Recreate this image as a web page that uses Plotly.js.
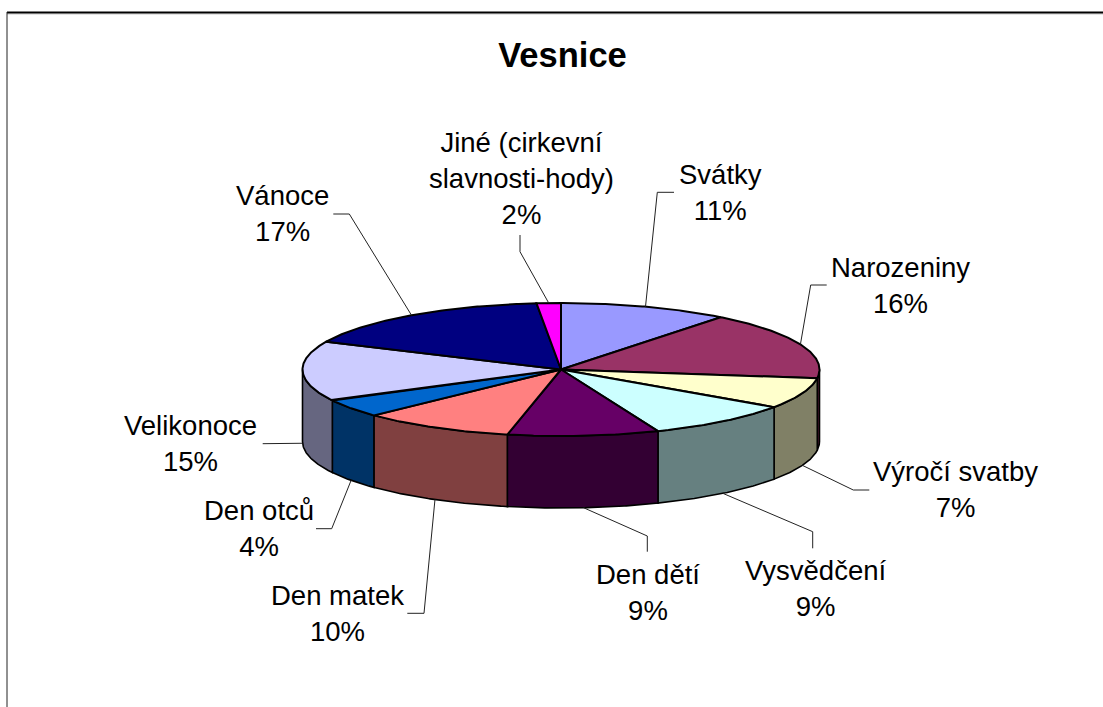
<!DOCTYPE html>
<html><head><meta charset="utf-8">
<script src="https://cdn.plot.ly/plotly-3.0.1.min.js"></script>
<style>html,body{margin:0;padding:0;background:#fff;overflow:hidden}#c{width:1103px;height:707px}</style>
</head><body><div id="c"></div>
<script>
// ---- data ----
const categories = ["Svátky","Narozeniny","Výročí svatby","Vysvědčení","Den dětí","Den matek","Den otců","Velikonoce","Vánoce","Jiné (cirkevní<br>slavnosti-hody)"];
const values = [10.6,16.49,7.49,9.3,9.45,9.55,4.4,14.6,16.61,1.51];
const topColors = ["#9999FF","#993366","#FFFFCC","#CCFFFF","#660066","#FF8080","#0066CC","#CCCCFF","#000080","#FF00FF"];
const sideColors = ["#666699","#4D1933","#808066","#668080","#330033","#804040","#003366","#666680","#000040","#800080"];

// ---- layout geometry (pixels of the 1103x707 page) ----
const W=1103,H=707,cx=561,cy=369.5,rx=258.5,ry=66.5,depthPx=72;
const FS=27.5;
// centre x and first-line baseline for each label
const labelX=[720,900.5,955,815,647.5,337,259,190,282,521];
const labelBase=[186,279,483,582,586,607,522,437,207,154];
// elbow points of each leader line, from the pie outwards
const leaderX=[[657.3,674],[810.7,826.7],[853.3,869.3],[812.7,812.7],[647.3,647.3],[424,407.3],[331.7,316],[262.7],[349.3,333.3],[520,520]];
const leaderY=[[192.3,192.3],[285,285],[490,490],[531.7,548.3],[536,551.7],[613.3,613.3],[528.7,528.7],[443.7],[214,214],[251.7,235]];

const pxX=p=>(p-cx)/rx, pxY=p=>(cy-p)/ry, depth=depthPx/ry;
const rad=d=>d*Math.PI/180;
const total=values.reduce((s,v)=>s+v,0);
let run=0;
const slices=values.map(v=>{const a0=run/total*360;run+=v;return [a0,run/total*360];});
function arc(a0,a1){const xs=[],ys=[];const n=Math.max(2,Math.ceil((a1-a0)*2));
  for(let i=0;i<=n;i++){const t=rad(a0+(a1-a0)*i/n);xs.push(Math.sin(t));ys.push(Math.cos(t));}return [xs,ys];}

const traces=[];
slices.forEach(([a0,a1],i)=>{
  const s0=Math.max(a0,90),s1=Math.min(a1,270);
  if(s1<=s0)return;
  const [xs,ys]=arc(s0,s1);
  const bx=xs.slice().reverse(),by=ys.slice().reverse().map(y=>y-depth);
  traces.push({type:"scatter",mode:"lines",x:xs.concat(bx,[xs[0]]),y:ys.concat(by,[ys[0]]),fill:"toself",fillcolor:sideColors[i],
    line:{color:"#000",width:1.6,shape:"linear"},hoverinfo:"skip",showlegend:false});
});
slices.forEach(([a0,a1],i)=>{
  const [xs,ys]=arc(a0,a1);
  traces.push({type:"scatter",mode:"lines",x:[0].concat(xs,[0]),y:[0].concat(ys,[0]),fill:"toself",fillcolor:topColors[i],
    line:{color:"#000",width:2},hoverinfo:"text",text:categories[i],name:categories[i],showlegend:false});
});
// leader lines start at the middle of each slice's outer edge
slices.forEach(([a0,a1],i)=>{
  const m=rad((a0+a1)/2), front=Math.cos(m)<0.05;
  const x0=Math.sin(m), y0=Math.cos(m)-(front?depth:0);
  traces.push({type:"scatter",mode:"lines",x:[x0].concat(leaderX[i].map(pxX)),y:[y0].concat(leaderY[i].map(pxY)),
    line:{color:"#222",width:1},hoverinfo:"skip",showlegend:false});
});

const annotations=categories.map((c,i)=>{
  const pct=Math.round(values[i]/total*100)+"%";
  return {xref:"paper",yref:"paper",x:labelX[i]/W,y:1-(labelBase[i]-FS*0.98)/H,xanchor:"center",yanchor:"top",align:"center",
    showarrow:false,text:c+"<br>"+pct,font:{family:"Liberation Sans, Arial, sans-serif",size:FS,color:"#000"},borderpad:0,borderwidth:0};
});

const layout={width:W,height:H,margin:{l:0,r:0,t:0,b:0},paper_bgcolor:"#fff",plot_bgcolor:"#fff",showlegend:false,
  title:{text:"<b>Vesnice</b>",x:562.5/W,xanchor:"center",xref:"paper",y:1-55/H,yanchor:"middle",yref:"paper",font:{family:"Liberation Sans, Arial, sans-serif",size:34.5,color:"#000"}},
  xaxis:{visible:false,range:[pxX(0),pxX(W)],fixedrange:true},
  yaxis:{visible:false,range:[pxY(H),pxY(0)],fixedrange:true},
  annotations,
  shapes:[
    {type:"line",xref:"paper",yref:"paper",x0:7/W,x1:1,y0:1-14/H,y1:1-14/H,line:{color:"#c8c8c8",width:1},layer:"below"},
    {type:"line",xref:"paper",yref:"paper",x0:7/W,x1:1,y0:1-12.5/H,y1:1-12.5/H,line:{color:"#000",width:2},layer:"below"},
    {type:"line",xref:"paper",yref:"paper",x0:7/W,x1:7/W,y0:1-12/H,y1:0,line:{color:"#222",width:1},layer:"below"}
  ]};
Plotly.newPlot("c",traces,layout,{displayModeBar:false});
</script></body></html>
